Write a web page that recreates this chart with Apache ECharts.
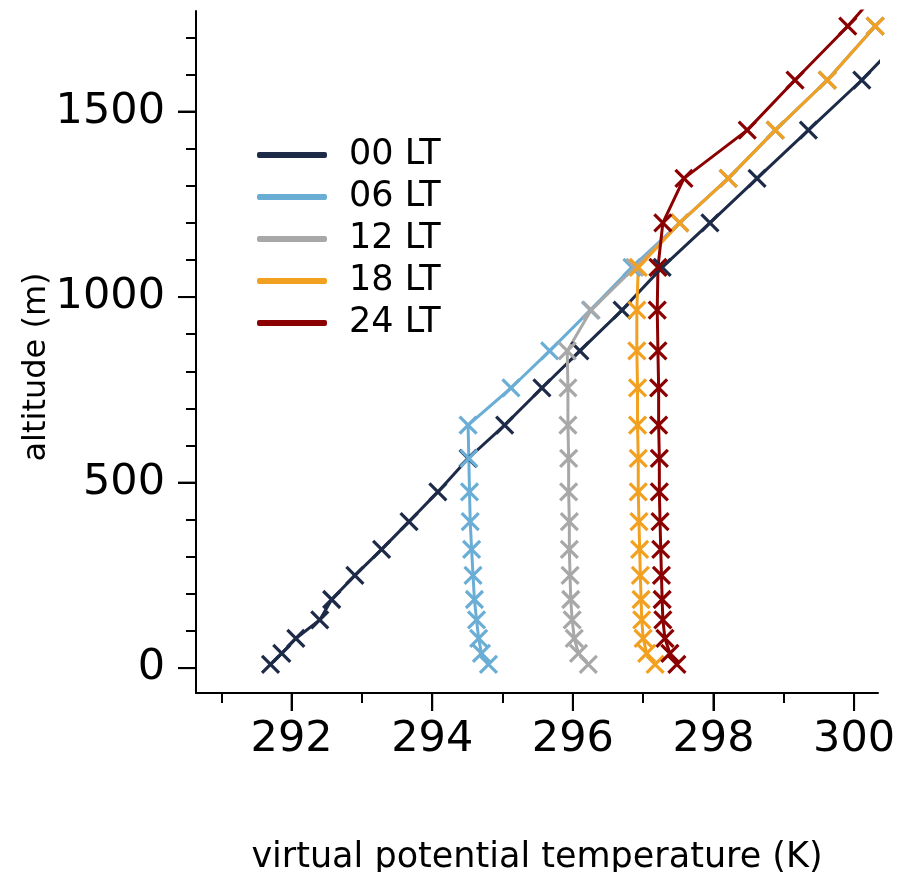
<!DOCTYPE html>
<html>
<head>
<meta charset="utf-8">
<script src="https://cdn.jsdelivr.net/npm/echarts@6/dist/echarts.min.js"></script>
<style>html,body{margin:0;padding:0;background:#fff}#c{width:897px;height:872px}</style>
</head>
<body>
<div id="c"></div>
<script>
var altitude = [10, 40, 80, 130, 185, 250, 320, 395, 475, 565, 655, 755, 855, 965, 1080, 1200, 1320, 1450, 1585, 1730, 1880];
var t00 = [291.70, 291.86, 292.06, 292.40, 292.57, 292.90, 293.28, 293.67, 294.08, 294.51, 295.03, 295.56, 296.10, 296.70, 297.27, 297.95, 298.62, 299.35, 300.11, 300.85, null];
var t06 = [294.80, 294.70, 294.66, 294.63, 294.60, 294.58, 294.56, 294.54, 294.53, 294.52, 294.51, 295.12, 295.67, 296.25, 296.84, 297.52, 298.21, 298.88, 299.62, 300.30, null];
var t12 = [296.22, 296.08, 296.02, 295.99, 295.97, 295.96, 295.95, 295.95, 295.94, 295.94, 295.93, 295.93, 295.92, 296.26, 296.88, 297.52, 298.21, 298.88, 299.62, 300.30, null];
var t18 = [297.17, 297.05, 297.00, 296.98, 296.97, 296.96, 296.95, 296.94, 296.93, 296.93, 296.92, 296.92, 296.91, 296.91, 296.93, 297.52, 298.21, 298.88, 299.62, 300.30, null];
var t24 = [297.48, 297.38, 297.31, 297.28, 297.27, 297.26, 297.25, 297.24, 297.23, 297.23, 297.22, 297.22, 297.21, 297.20, 297.21, 297.28, 297.58, 298.48, 299.16, 299.91, 300.60];
var seriesNames = ['00 LT', '06 LT', '12 LT', '18 LT', '24 LT'];
var seriesColors = ['#1d2b49', '#6aaed6', '#a8a8a8', '#f2a01f', '#8b0000'];
var xMajorTicks = [292, 294, 296, 298, 300];
var xMinorTicks = [291, 293, 295, 297, 299];
var yMajorTicks = [0, 500, 1000, 1500];
var yMinorTicks = [100, 200, 300, 400, 600, 700, 800, 900, 1100, 1200, 1300, 1400, 1600, 1700];

var allT = [t00, t06, t12, t18, t24];
var FONT = 'DejaVu Sans';
var xMin = 290.64, xMax = 300.34, yMin = -67, yMax = 1771;

function pairs(t) {
  var out = [];
  for (var i = 0; i < altitude.length; i++) {
    if (t[i] !== null) out.push([t[i], altitude[i]]);
  }
  return out;
}

var series = seriesNames.map(function (n, k) {
  return {
    name: n,
    type: 'line',
    xAxisIndex: 0,
    yAxisIndex: 0,
    data: pairs(allT[k]),
    clip: true,
    showAllSymbol: true,
    symbol: 'path://M0,0L10,10M0,10L10,0',
    symbolSize: 17,
    lineStyle: { color: seriesColors[k], width: 3 },
    itemStyle: { color: seriesColors[k], borderColor: seriesColors[k], borderWidth: 3.2 },
    emphasis: { disabled: true },
    animation: false
  };
});

var chart = echarts.init(document.getElementById('c'), null, { renderer: 'canvas' });
chart.setOption({
  animation: false,
  backgroundColor: '#ffffff',
  grid: { left: 196, right: 19, top: 11, bottom: 179, containLabel: false, outerBoundsMode: 'none' },
  legend: {
    orient: 'vertical',
    left: 252,
    top: 132,
    itemWidth: 68,
    itemHeight: 4,
    itemGap: 6,
    icon: 'roundRect',
    textStyle: { fontFamily: FONT, fontSize: 35, color: '#000', lineHeight: 36, padding: [0, 0, 0, 18] },
    data: seriesNames.map(function (n) { return { name: n, icon: 'roundRect' }; })
  },
  xAxis: [{
    type: 'value',
    min: xMin, max: xMax,
    position: 'bottom',
    name: 'virtual potential temperature (K)',
    nameLocation: 'middle',
    nameGap: 147,
    nameMoveOverlap: false,
    nameTextStyle: { fontFamily: FONT, fontSize: 35, color: '#000' },
    axisLine: { show: true, onZero: false, lineStyle: { color: '#000', width: 2 } },
    axisTick: { show: true, customValues: xMajorTicks, length: 18, lineStyle: { color: '#000', width: 2 } },
    minorTick: { show: false },
    axisLabel: { show: true, customValues: xMajorTicks, margin: 25, fontFamily: FONT, fontSize: 43, color: '#000',
      formatter: function (v) { return String(Math.round(v)); } },
    splitLine: { show: false }
  }, {
    type: 'value',
    min: xMin, max: xMax,
    position: 'bottom',
    axisLine: { show: false, onZero: false },
    axisTick: { show: true, customValues: xMinorTicks, length: 10, lineStyle: { color: '#000', width: 2 } },
    axisLabel: { show: false },
    splitLine: { show: false }
  }],
  yAxis: [{
    type: 'value',
    min: yMin, max: yMax,
    position: 'left',
    name: 'altitude (m)',
    nameLocation: 'middle',
    nameGap: 143,
    nameMoveOverlap: false,
    nameTextStyle: { fontFamily: FONT, fontSize: 32, color: '#000', padding: [0, 30, 0, 0] },
    axisLine: { show: true, onZero: false, lineStyle: { color: '#000', width: 2 } },
    axisTick: { show: true, customValues: yMajorTicks, length: 18, lineStyle: { color: '#000', width: 2 } },
    axisLabel: { show: true, customValues: yMajorTicks, margin: 31, fontFamily: FONT, fontSize: 43, color: '#000',
      formatter: function (v) { return String(Math.round(v)); } },
    splitLine: { show: false }
  }, {
    type: 'value',
    min: yMin, max: yMax,
    position: 'left',
    axisLine: { show: false, onZero: false },
    axisTick: { show: true, customValues: yMinorTicks, length: 10, lineStyle: { color: '#000', width: 2 } },
    axisLabel: { show: false },
    splitLine: { show: false }
  }],
  graphic: [],
  series: series
});

// Major tick marks via graphic lines positioned through the axis scale
function drawMajorTicks() {
  var els = [];
  xMajorTicks.forEach(function (v) {
    var p = chart.convertToPixel({ xAxisIndex: 0 }, v);
    var y0 = chart.convertToPixel({ yAxisIndex: 0 }, yMin);
    els.push({ type: 'line', shape: { x1: p, y1: y0, x2: p, y2: y0 + 18 }, style: { stroke: '#000', lineWidth: 2 }, silent: true });
  });
  yMajorTicks.forEach(function (v) {
    var p = chart.convertToPixel({ yAxisIndex: 0 }, v);
    var x0 = chart.convertToPixel({ xAxisIndex: 0 }, xMin);
    els.push({ type: 'line', shape: { x1: x0 - 18, y1: p, x2: x0, y2: p }, style: { stroke: '#000', lineWidth: 2 }, silent: true });
  });
  chart.setOption({ graphic: els });
}
drawMajorTicks();
</script>
</body>
</html>
